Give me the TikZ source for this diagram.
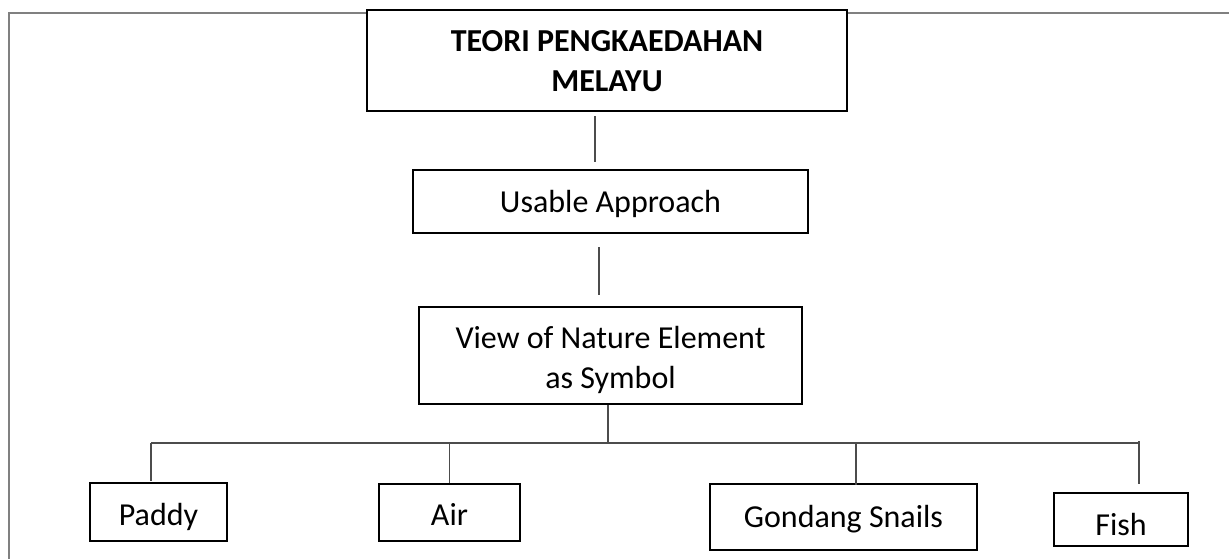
\documentclass[tikz,border=0pt]{standalone}
\usepackage{fontspec}
\setmainfont{Carlito}
\begin{document}
\begin{tikzpicture}[x=1pt,y=-1pt,
  box/.style={draw=black, line width=2pt, fill=white, inner sep=0pt, text depth=0pt,
              font=\fontsize{32}{40}\selectfont},
  conn/.style={draw=black!70, line width=1.3pt},
  frameline/.style={draw=black!50, line width=1.6pt}]
\useasboundingbox (0,0) rectangle (1229,558);
\draw[frameline] (1232,13) -- (9,13) -- (9,562);

\node[box, minimum width=480pt, minimum height=101pt, align=center, text height=61pt, text depth=0pt,
      font=\fontsize{32}{40}\selectfont\bfseries] (title) at (607,60.5) {TEORI PENGKAEDAHAN\\MELAYU};
\node[box, minimum width=395pt, minimum height=63pt, text height=21pt] (usable) at (610.5,201.5) {Usable Approach};
\node[box, minimum width=383pt, minimum height=97pt, align=center, text height=65pt, text depth=0pt] (view) at (610.5,355.5) {View of Nature Element\\as Symbol};
\node[box, minimum width=137pt, minimum height=58pt, text height=26pt] (paddy) at (158.5,512) {Paddy};
\node[box, minimum width=141pt, minimum height=57pt, text height=25pt] (air) at (449.5,512.5) {Air};
\node[box, minimum width=267pt, minimum height=66pt, text height=20pt] (gondang) at (843.5,517) {Gondang Snails};
\node[box, minimum width=134pt, minimum height=53pt, text height=31pt] (fish) at (1121,519.5) {Fish};

\coordinate (busL) at (151,443);
\coordinate (busR) at (1139,443);

\draw[conn] ([xshift=-12pt,yshift=-4pt]title.south) -- ([xshift=-15.5pt,yshift=7pt]usable.north);
\draw[conn] ([xshift=-11.5pt,yshift=-13pt]usable.south) -- ([xshift=-11.5pt,yshift=11pt]view.north);
\draw[conn] ([xshift=-2.5pt]view.south) -- ([xshift=-2.5pt]view.south |- busL);
\draw[conn] (busL) -- (busR);
\draw[conn] (busL) -- ([xshift=-7.5pt,yshift=1pt]paddy.north);
\draw[conn] (air.north |- busL) -- (air.north);
\draw[conn] ([xshift=12.5pt]gondang.north |- busL) -- ([xshift=12.5pt,yshift=-2pt]gondang.north);
\draw[conn] ([yshift=2pt]busR) -- ([xshift=18pt,yshift=8pt]fish.north);
\end{tikzpicture}
\end{document}
